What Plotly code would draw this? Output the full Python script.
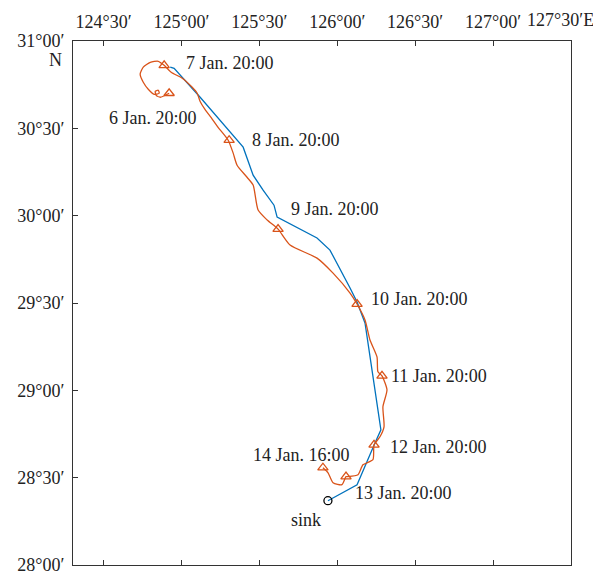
import plotly.graph_objects as go

# Observed drift track (lon, lat in degrees)
obs_lon = [124.928, 124.953, 125.120, 125.396, 125.460, 125.524, 125.594, 125.614,
           125.870, 125.953, 126.082, 126.127, 126.178, 126.204, 126.236, 126.280,
           126.242, 126.127, 125.940]
obs_lat = [30.850, 30.844, 30.678, 30.392, 30.232, 30.146, 30.060, 29.992,
           29.872, 29.803, 29.586, 29.506, 29.386, 29.231, 29.031, 28.774,
           28.699, 28.459, 28.368]

# Simulated drift track
sim_lon = [124.921, 124.864, 124.838, 124.832, 124.851, 124.857, 124.825, 124.787,
           124.755, 124.735, 124.755, 124.800, 124.851, 124.889, 124.934, 125.005,
           125.069, 125.101, 125.120, 125.152, 125.191, 125.234, 125.300, 125.332,
           125.357, 125.421, 125.460, 125.492, 125.550, 125.620, 125.697, 125.870,
           125.973, 126.082, 126.127, 126.178, 126.210, 126.255, 126.261, 126.287,
           126.319, 126.293, 126.300, 126.274, 126.236, 126.229, 126.165, 126.133,
           126.069, 126.056, 126.030, 125.973, 125.941, 125.908]
sim_lat = [30.701, 30.678, 30.689, 30.712, 30.718, 30.701, 30.695, 30.724,
           30.764, 30.810, 30.850, 30.878, 30.884, 30.861, 30.821, 30.787,
           30.735, 30.701, 30.654, 30.607, 30.561, 30.507, 30.432, 30.358,
           30.289, 30.220, 30.175, 30.032, 29.975, 29.923, 29.832, 29.757,
           29.671, 29.557, 29.494, 29.403, 29.288, 29.191, 29.106, 29.083,
           29.003, 28.906, 28.791, 28.734, 28.688, 28.603, 28.574, 28.517,
           28.506, 28.506, 28.460, 28.471, 28.528, 28.557]

# Time markers on the simulated track
mark_labels = ["6 Jan. 20:00", "7 Jan. 20:00", "8 Jan. 20:00", "9 Jan. 20:00",
               "10 Jan. 20:00", "11 Jan. 20:00", "12 Jan. 20:00", "13 Jan. 20:00",
               "14 Jan. 16:00"]
mark_lon = [124.921, 124.889, 125.306, 125.620, 126.127, 126.287, 126.236, 126.056, 125.908]
mark_lat = [30.701, 30.861, 30.432, 29.923, 29.494, 29.083, 28.688, 28.506, 28.557]
# label placement: (xanchor, xshift px, yshift px)
mark_label_pos = [("center", -16, -25), ("left", 20, 2), ("left", 21, 0), ("left", 11, 20),
                  ("left", 12, 5), ("left", 7, 0), ("left", 14, -2), ("left", 7, -16),
                  ("right", 29, 13)]

sink_lon = [125.940]
sink_lat = [28.368]

lon_ticks = [124.5, 125.0, 125.5, 126.0, 126.5, 127.0, 127.5]
lon_text = ["124°30′", "125°00′", "125°30′", "126°00′", "126°30′", "127°00′", ""]
lat_ticks = [28.0, 28.5, 29.0, 29.5, 30.0, 30.5, 31.0]
lat_text = ["28°00′", "28°30′", "29°00′", "29°30′", "30°00′", "30°30′", "31°00′"]

BLUE = "#0072BD"
ORANGE = "#D95319"
FONT = "Liberation Serif"
TXT = "#222222"

fig = go.Figure()
fig.add_trace(go.Scatter(x=obs_lon, y=obs_lat, mode="lines",
                         line=dict(color=BLUE, width=1.3), showlegend=False))
fig.add_trace(go.Scatter(x=sim_lon, y=sim_lat, mode="lines",
                         line=dict(color=ORANGE, width=1.3, shape="spline", smoothing=0.6),
                         showlegend=False))
fig.add_trace(go.Scatter(x=mark_lon, y=mark_lat, mode="markers",
                         marker=dict(symbol="triangle-up-open", size=9, color=ORANGE,
                                     line=dict(width=1.3)), showlegend=False))
fig.add_trace(go.Scatter(x=sink_lon, y=sink_lat, mode="markers",
                         marker=dict(symbol="circle-open", size=8, color="black",
                                     line=dict(width=1.3)), showlegend=False))

ann = []
for t, lo, la, (xa, xs, ys) in zip(mark_labels, mark_lon, mark_lat, mark_label_pos):
    ann.append(dict(x=lo, y=la, text=t, showarrow=False, xanchor=xa, yanchor="middle",
                    xshift=xs, yshift=ys, font=dict(family=FONT, size=18, color=TXT)))
ann.append(dict(x=sink_lon[0], y=sink_lat[0], text="sink", showarrow=False,
                xanchor="center", yanchor="middle", xshift=-22, yshift=-19,
                font=dict(family=FONT, size=18, color=TXT)))
ann.append(dict(x=1.0, xref="paper", xanchor="right", xshift=25, y=1.0, yref="paper",
                yanchor="middle", yshift=21, text="127°30′E", showarrow=False,
                font=dict(family=FONT, size=18, color=TXT)))
ann.append(dict(x=0, xref="paper", xanchor="right", xshift=-9, y=31.0, yanchor="middle",
                yshift=-19, text="N", showarrow=False,
                font=dict(family=FONT, size=18, color=TXT)))
fig.update_layout(annotations=ann)

fig.update_xaxes(range=[124.304, 127.5], side="top", tickvals=lon_ticks, ticktext=lon_text,
                 ticks="inside", ticklen=5, tickcolor="#333", showline=True, linecolor="#333",
                 linewidth=1, mirror="ticks", showgrid=False, zeroline=False,
                 automargin=False, ticklabelstandoff=5,
                 tickfont=dict(family=FONT, size=18, color=TXT))
fig.update_yaxes(range=[28.0, 31.0], tickvals=lat_ticks, ticktext=lat_text,
                 ticks="inside", ticklen=5, tickcolor="#333", showline=True, linecolor="#333",
                 linewidth=1, mirror=True, showgrid=False, zeroline=False,
                 automargin=False, ticklabelstandoff=4,
                 tickfont=dict(family=FONT, size=18, color=TXT))

# page body has an 8px default margin; size the figure to fill the rest of the window
fig.update_layout(width=593, height=569, margin=dict(l=65, r=30, t=33, b=12),
                  plot_bgcolor="white", paper_bgcolor="white")

fig.write_html("out.html")
